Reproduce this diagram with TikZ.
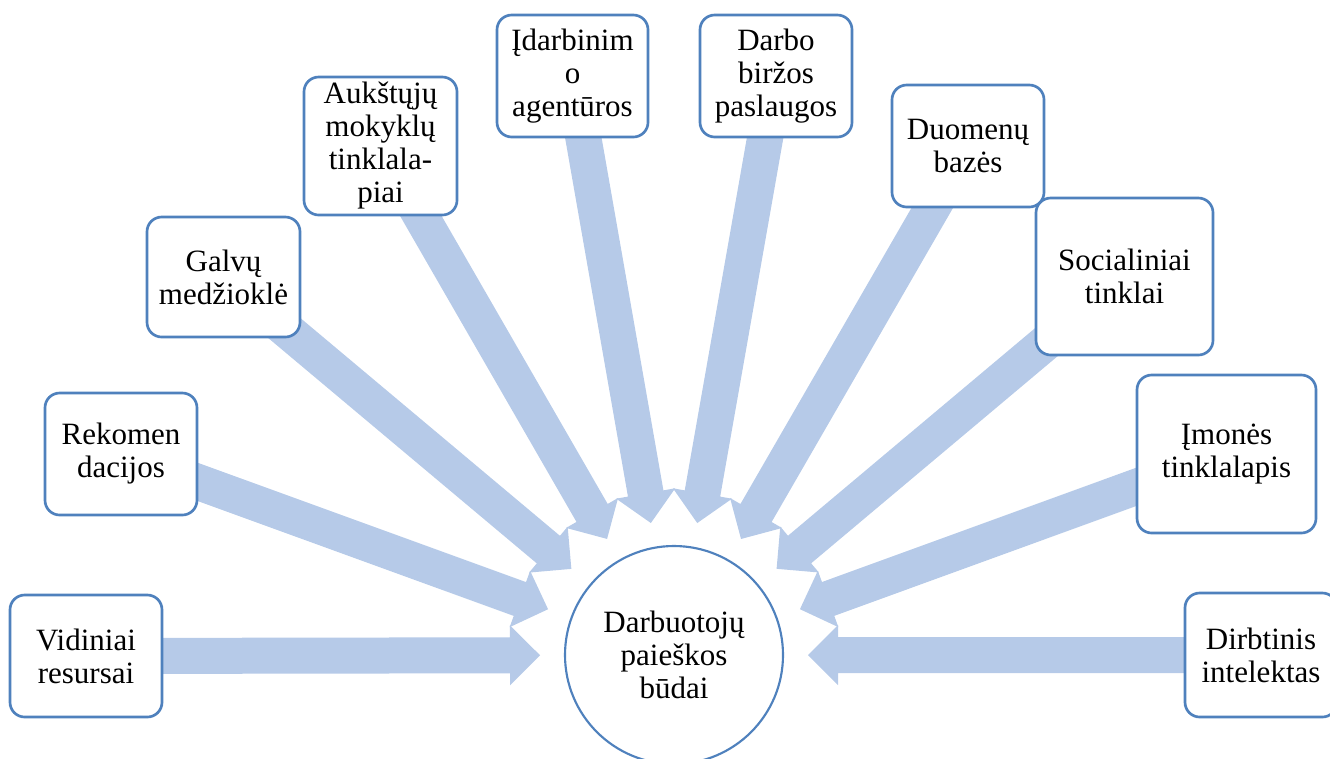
\documentclass[tikz,border=0pt]{standalone}
\usepackage{fontspec}
\setmainfont{Liberation Serif}
\usetikzlibrary{calc,backgrounds}
\definecolor{boxblue}{RGB}{79,129,189}
\definecolor{arrowblue}{RGB}{182,202,232}
\tikzset{
  box/.style={draw=boxblue, line width=2pt, fill=white, rounded corners=11pt,
    align=center, inner sep=0pt, font=\fontsize{23.25}{24.75}\selectfont},
  hub/.style={circle, draw=boxblue, line width=1.6pt, fill=white, inner sep=0pt,
    minimum size=163.5pt, align=center, font=\fontsize{23.25}{24.75}\selectfont},
  arrowfill/.style={fill=arrowblue}
}
\newcommand\blockarrow[1]{%
  \path ($(cc.center)!100.5pt!(#1.center)$) coordinate (tip-#1);
  \path ($(tip-#1)!22.5pt!(#1.center)$) coordinate (base-#1);
  \fill[arrowfill] ($(#1.center)!13.5pt!90:(tip-#1)$)
    -- ($(base-#1)!13.5pt!90:(tip-#1)$)
    -- ($(base-#1)!22.5pt!90:(tip-#1)$)
    -- (tip-#1)
    -- ($(base-#1)!22.5pt!-90:(tip-#1)$)
    -- ($(base-#1)!13.5pt!-90:(tip-#1)$)
    -- ($(#1.center)!13.5pt!-90:(tip-#1)$) -- cycle;
}
\begin{document}
\begin{tikzpicture}[x=0.75pt, y=-0.75pt]
\useasboundingbox (0,0) rectangle (1330,758);
\node[hub] (cc) at (674,655) {Darbuotojų\\paieškos\\būdai};
\node[box, minimum width=114pt, minimum height=91.5pt] (b1) at (86,656) {Vidiniai\\resursai};
\node[box, minimum width=114pt, minimum height=91.5pt] (b2) at (121,454) {Rekomen\\dacijos};
\node[box, minimum width=114.75pt, minimum height=90pt] (b3) at (223.5,277) {Galvų\\medžioklė};
\node[box, minimum width=114.75pt, minimum height=103.5pt] (b4) at (380.5,146) {Aukštųjų\\mokyklų\\tinklala-\\piai};
\node[box, minimum width=113.25pt, minimum height=91.5pt] (b5) at (572.5,76) {Įdarbinim\\o\\agentūros};
\node[box, minimum width=114pt, minimum height=91.5pt] (b6) at (776,76) {Darbo\\biržos\\paslaugos};
\node[box, minimum width=114pt, minimum height=91.5pt] (b7) at (968,146) {Duomenų\\bazės};
\node[box, minimum width=132.75pt, minimum height=117.75pt] (b8) at (1124.5,276.5) {Socialiniai\\tinklai};
\node[box, minimum width=134.25pt, minimum height=118.5pt] (b9) at (1226.5,454) {Įmonės\\tinklalapis};
\node[box, minimum width=114pt, minimum height=93pt] (b10) at (1261,655) {Dirbtinis\\intelektas};
\begin{pgfonlayer}{background}
\foreach \i in {1,...,10} {\blockarrow{b\i}}
\end{pgfonlayer}
\end{tikzpicture}
\end{document}
